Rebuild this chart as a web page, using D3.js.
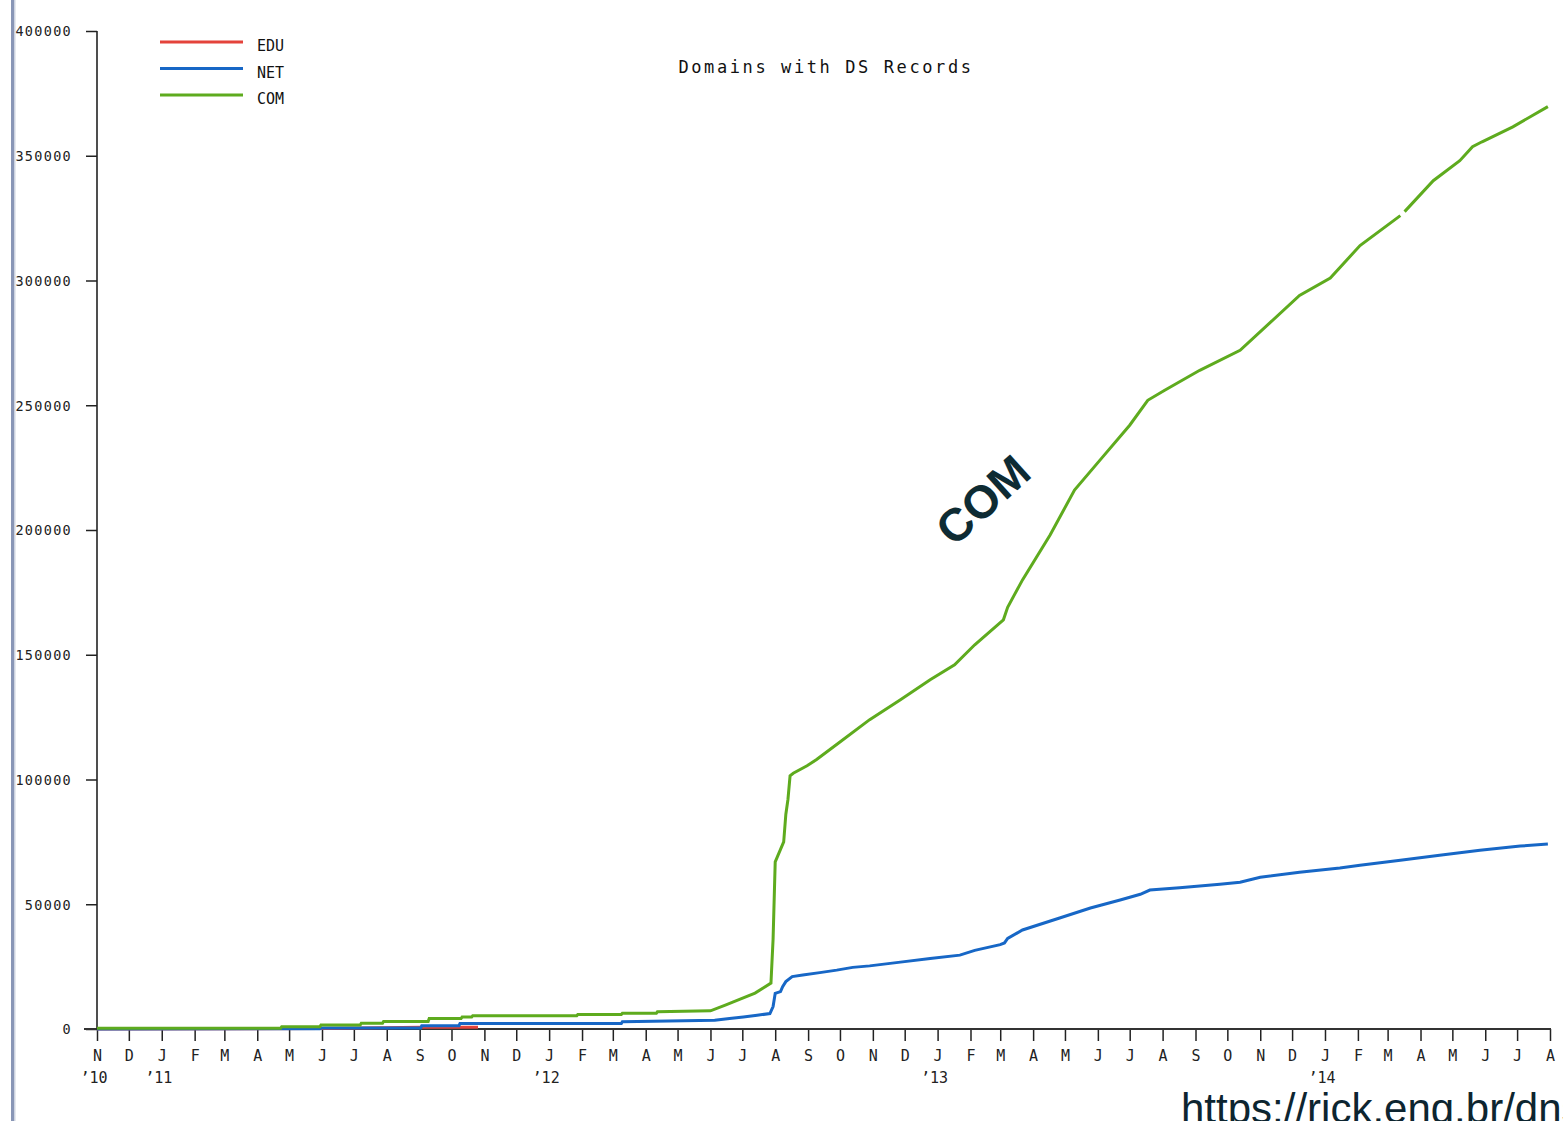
<!DOCTYPE html>
<html>
<head>
<meta charset="utf-8">
<script src="https://cdn.jsdelivr.net/npm/d3@7"></script>
<style>
  html, body { margin: 0; padding: 0; background: #fff; overflow: hidden; }
  svg { display: block; }
</style>
</head>
<body>
<svg id="chart" width="1563" height="1121"></svg>
<script>
// ---------- data ----------
const seriesNames = ["EDU", "NET", "COM"];
const seriesColors = ["#e4433b", "#1767c6", "#5eab1e"];

const eduDates  = ["2010-11-01","2011-06-01","2011-09-03","2011-10-26"];
const eduValues = [0, 200, 700, 700];

const netDates = ["2010-11-01","2011-05-30","2011-05-31","2011-09-02","2011-09-03","2011-10-08","2011-10-09",
  "2012-03-09","2012-03-10","2012-06-05","2012-06-19","2012-07-02","2012-07-15","2012-07-27","2012-07-30",
  "2012-08-01","2012-08-06","2012-08-08","2012-08-11","2012-08-17","2012-08-27","2012-09-12","2012-09-28",
  "2012-10-13","2012-10-29","2012-11-27","2012-12-25","2013-01-22","2013-02-05","2013-03-01","2013-03-05",
  "2013-03-08","2013-03-22","2013-04-26","2013-05-25","2013-06-22","2013-07-11","2013-07-20","2013-08-17",
  "2013-09-24","2013-10-13","2013-11-01","2013-12-08","2014-01-15","2014-02-03","2014-03-13","2014-04-19",
  "2014-05-27","2014-07-04","2014-07-30"];
const netValues = [0, 100, 400, 400, 1300, 1300, 2200,
  2200, 2900, 3500, 4200, 4800, 5500, 6200, 9000,
  14300, 15000, 17000, 19000, 21000, 21600, 22600, 23600,
  24700, 25300, 26800, 28300, 29600, 31500, 33800, 34500,
  36300, 39700, 44500, 48500, 51700, 54000, 55700, 56600,
  58000, 58800, 60800, 62800, 64500, 65600, 67600, 69600,
  71600, 73300, 74100];

const comDates = ["2010-11-01","2011-04-23","2011-04-24","2011-05-30","2011-05-31","2011-07-07","2011-07-08",
  "2011-07-28","2011-07-29","2011-09-09","2011-09-10","2011-10-10","2011-10-11","2011-10-20","2011-10-21",
  "2012-01-27","2012-01-28","2012-03-09","2012-03-10","2012-04-11","2012-04-12","2012-06-01","2012-06-15",
  "2012-06-29","2012-07-13","2012-07-28","2012-07-30","2012-08-01","2012-08-03","2012-08-09","2012-08-11",
  "2012-08-13","2012-08-15","2012-08-18","2012-08-31","2012-09-09","2012-10-01","2012-10-29","2012-11-27",
  "2012-12-25","2013-01-17","2013-02-05","2013-03-04","2013-03-08","2013-03-22","2013-04-17","2013-05-10",
  "2013-06-03","2013-07-01","2013-07-18","2013-08-03","2013-09-05","2013-10-13","2013-11-10","2013-12-08",
  "2014-01-06","2014-02-03","2014-03-13","2014-03-15","2014-03-17","2014-04-13","2014-05-08","2014-05-20",
  "2014-05-29","2014-06-27","2014-07-30"];
const comValues = [300, 300, 900, 900, 1600, 1600, 2300,
  2300, 3000, 3000, 4200, 4200, 4800, 4800, 5300,
  5300, 5800, 5800, 6300, 6300, 6900, 7300, 9600,
  12000, 14400, 18400, 36000, 67000, 69000, 75000, 86000,
  92000, 101500, 102500, 105500, 108000, 115000, 124000, 132000,
  140000, 146000, 154000, 164000, 169000, 180000, 198000, 216000,
  228000, 242000, 252000, 256000, 264000, 272000, 283000, 294000,
  301000, 314000, 326000, null, 327600, 340000, 348000, 353600,
  355600, 361600, 369700];

const monthLetters = ["J","F","M","A","M","J","J","A","S","O","N","D"];
const yearTickDates = ["2010-11-01","2011-01-01","2012-01-01","2013-01-01","2014-01-01"];
const yearTickLabels = ["\u201910","\u201911","\u201912","\u201913","\u201914"];
const yTickValues = [0, 50000, 100000, 150000, 200000, 250000, 300000, 350000, 400000];

const titleText = "Domains with DS Records";
const annotationText = "COM";
const urlText = "https://rick.eng.br/dnssecstats";

// ---------- drawing ----------
const parse = d3.utcParse("%Y-%m-%d");
const svg = d3.select("#chart");
const mono = "'DejaVu Sans Mono', 'Liberation Mono', monospace";

const x = d3.scaleUtc().domain([parse("2010-11-01"), parse("2014-08-01")]).range([97, 1550]);
const y = d3.scaleLinear().domain([0, 400000]).range([1029, 31]);

// left gray bar
svg.append("rect").attr("x", 11).attr("y", 0).attr("width", 3).attr("height", 1121).attr("fill", "#8996b6");
svg.append("rect").attr("x", 14).attr("y", 0).attr("width", 1.5).attr("height", 1121).attr("fill", "#cdd3e0");

// y axis
const yAxis = d3.axisLeft(y).tickValues(yTickValues).tickSize(11).tickPadding(14).tickFormat(d3.format("d"));
const gy = svg.append("g").attr("transform", "translate(97,0)").call(yAxis);
gy.select(".domain").remove();
gy.selectAll(".tick line").attr("stroke", "#222").attr("stroke-width", 1.5);
gy.selectAll(".tick text").attr("font-family", mono).attr("font-size", 13.5)
  .attr("letter-spacing", 1.3).attr("fill", "#222").attr("dy", "0.36em");
svg.append("line").attr("x1", 97).attr("x2", 97).attr("y1", y(400000)).attr("y2", y(0))
  .attr("stroke", "#222").attr("stroke-width", 1.6);

// x axis (months)
const monthTicks = d3.utcMonth.range(parse("2010-11-01"), parse("2014-08-02"));
const xAxis = d3.axisBottom(x).tickValues(monthTicks).tickSize(12).tickPadding(9)
  .tickFormat(d => monthLetters[d.getUTCMonth()]);
const gx = svg.append("g").attr("transform", "translate(0,1029)").call(xAxis);
gx.select(".domain").remove();
gx.selectAll(".tick line").attr("stroke", "#222").attr("stroke-width", 1.5);
gx.selectAll(".tick text").attr("font-family", mono).attr("font-size", 15).attr("fill", "#222");
svg.append("line").attr("x1", 84).attr("x2", x.range()[1] + 1).attr("y1", y(0)).attr("y2", y(0))
  .attr("stroke", "#333").attr("stroke-width", 1.8);

// year labels
svg.append("g").selectAll("text").data(yearTickDates).join("text")
  .attr("x", d => x(parse(d)) - 3).attr("y", 1083)
  .attr("text-anchor", "middle").attr("font-family", mono).attr("font-size", 15).attr("fill", "#222")
  .text((d, i) => yearTickLabels[i]);

// lines
const seriesData = [
  eduDates.map((d, i) => ({ date: parse(d), value: eduValues[i] })),
  netDates.map((d, i) => ({ date: parse(d), value: netValues[i] })),
  comDates.map((d, i) => ({ date: parse(d), value: comValues[i] }))
];
const line = d3.line().defined(d => d.value !== null)
  .x(d => x(d.date)).y(d => y(d.value)).curve(d3.curveLinear);
svg.append("g").selectAll("path").data(seriesData).join("path")
  .attr("d", line).attr("fill", "none")
  .attr("stroke", (d, i) => seriesColors[i]).attr("stroke-width", 3)
  .attr("stroke-linejoin", "miter").attr("stroke-linecap", "butt");

// legend
const lg = svg.append("g").selectAll("g").data(seriesNames).join("g")
  .attr("transform", (d, i) => `translate(160,${42 + i * 26.5})`);
lg.append("line").attr("x1", 0).attr("x2", 83).attr("y1", 0).attr("y2", 0)
  .attr("stroke", (d, i) => seriesColors[i]).attr("stroke-width", 3);
lg.append("text").attr("x", 97).attr("y", 9).attr("font-family", mono).attr("font-size", 15)
  .attr("fill", "#111").text(d => d);

// title
svg.append("text").attr("x", 826).attr("y", 73).attr("text-anchor", "middle")
  .attr("font-family", mono).attr("font-size", 17).attr("letter-spacing", 2.6).attr("fill", "#111")
  .text(titleText);

// annotation
svg.append("text").attr("transform", "translate(983,500) rotate(-42)")
  .attr("text-anchor", "middle").attr("dominant-baseline", "central")
  .attr("font-family", "'Liberation Sans', Arial, sans-serif").attr("font-weight", "bold")
  .attr("font-size", 46).attr("fill", "#0e2b33").text(annotationText);

// url footer (clipped by the page edge, as in the reference)
svg.append("text").attr("x", 1181).attr("y", 1123)
  .attr("font-family", "'Liberation Sans', Arial, sans-serif").attr("font-size", 42)
  .attr("fill", "#0d2530").text(urlText);
</script>
</body>
</html>
